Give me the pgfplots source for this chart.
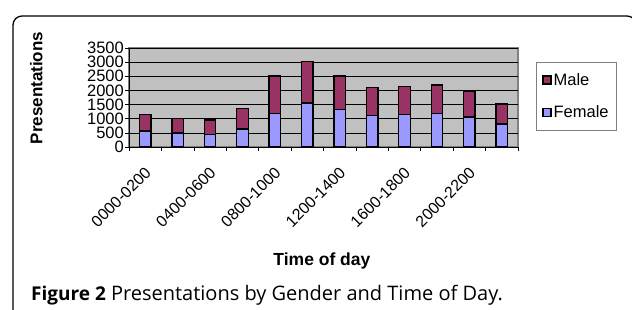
\documentclass[border=0pt]{standalone}
\usepackage{fontspec}
\setmainfont{Liberation Sans}
\newfontfamily\capfont{Open Sans}
\usepackage{pgfplots}
\pgfplotsset{compat=1.18}
\definecolor{male}{RGB}{153,51,102}
\definecolor{female}{RGB}{153,153,255}
\definecolor{plotbg}{RGB}{192,192,192}
\begin{document}
\begin{tikzpicture}
\path[use as bounding box] (0,0) rectangle (632pt,310pt);
\draw[line width=1.3pt, rounded corners=9pt] (13pt,-5pt) -- (13pt,294pt) -- (636pt,294pt) -- (636pt,250pt);
\begin{axis}[
  at={(129pt,163pt)}, anchor=south west,
  scale only axis, width=389pt, height=99pt,
  ybar stacked, bar width=11.5pt,
  xmin=-0.5, xmax=11.5, ymin=0, ymax=3500,
  ytick={0,500,...,3500},
  xtick={-0.5,0.5,...,11.5}, xticklabels={},
  extra x ticks={0,2,4,6,8,10},
  extra x tick labels={0000-0200,0400-0600,0800-1000,1200-1400,1600-1800,2000-2200},
  extra x tick style={major tick length=0pt, tick style={draw=none}},
  xticklabel style={xshift=3pt, yshift=-23pt, rotate=45, anchor=east, inner sep=0pt, font=\fontsize{16}{16}\selectfont},
  axis lines=left, axis line style={-, black, line width=0.8pt},
  axis background/.style={fill=plotbg, draw={rgb,255:red,128;green,128;blue,128}, line width=1.2pt},
  ymajorgrids, grid style={black, line width=0.6pt},
  tick align=outside, major tick length=4pt, tick style={black, line width=0.6pt},
  /pgf/number format/assume math mode=true,
  /pgf/number format/1000 sep={},
  yticklabel style={font=\fontsize{16.5}{16.5}\selectfont, inner sep=1pt},
  ylabel={\textbf{Presentations}},
  ylabel style={at={(rel axis cs:-0.238,0.596)}, anchor=center, font=\fontsize{17}{17}\selectfont},
  xlabel={\textbf{Time of day}},
  xlabel style={at={(rel axis cs:0.496,-1.152)}, anchor=center, font=\fontsize{17.5}{17.5}\selectfont},
  legend style={at={(rel axis cs:1.046,0.859)}, anchor=north west, draw={rgb,255:red,128;green,128;blue,128}, line width=0.8pt,
    font=\fontsize{16.5}{16.5}\selectfont, row sep=15pt, inner xsep=6pt, inner ysep=9pt, cells={anchor=west}},
  legend image code/.code={\draw[#1, draw=black, line width=1.3pt] (0pt,-4pt) rectangle (8pt,4pt);},
  reverse legend,
]
\addplot[fill=female, draw=black, line width=1.4pt] coordinates {
(0,570) (1,495) (2,435) (3,635) (4,1190) (5,1555) (6,1320) (7,1120) (8,1155) (9,1180) (10,1060) (11,815)};
\addlegendentry{Female}
\addplot[fill=male, draw=black, line width=1.4pt] coordinates {
(0,575) (1,520) (2,520) (3,730) (4,1320) (5,1460) (6,1190) (7,990) (8,980) (9,1010) (10,920) (11,705)};
\addlegendentry{Male}
\end{axis}
\node[anchor=west, inner sep=0pt, font=\capfont\fontsize{20}{20}\selectfont] at (31pt,15pt) {{\fontsize{19}{19}\selectfont\textbf{Figure 2}} Presentations by Gender and Time of Day.};
\end{tikzpicture}
\end{document}
